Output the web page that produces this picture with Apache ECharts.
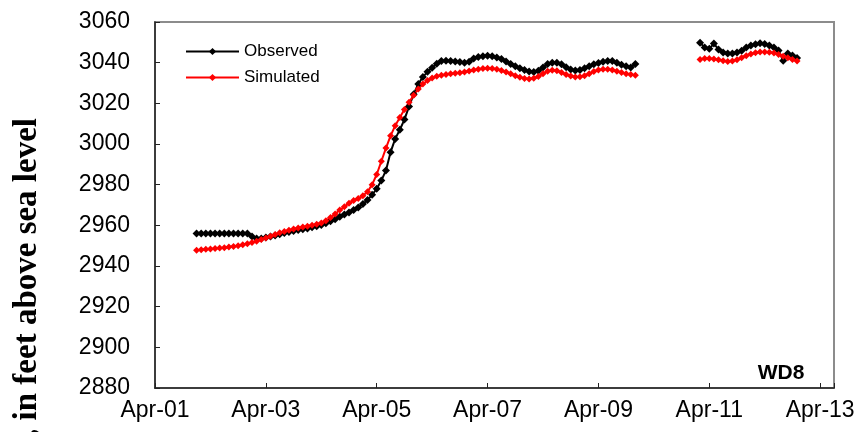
<!DOCTYPE html>
<html>
<head>
<meta charset="utf-8">
<script src="https://cdn.jsdelivr.net/npm/echarts@6/dist/echarts.min.js"></script>
<style>
  html, body { margin: 0; padding: 0; background: #fff; }
  #chart { width: 860px; height: 432px; }
</style>
</head>
<body>
<div id="chart"></div>
<script>
// Time is measured in days after Apr-01 00:00; readings every 2 hours.
const readingStep = 1 / 12;

// First record: Apr-01 18:00 to Apr-09 16:00
const part1Start = 0.75;
// Second record: Apr-10 20:00 to Apr-12 14:00
const part2Start = 9.8333;

const xTickDays = [0, 2, 4, 6, 8, 10, 12];
const xTickLabels = ['Apr-01', 'Apr-03', 'Apr-05', 'Apr-07', 'Apr-09', 'Apr-11', 'Apr-13'];

const observedPart1 = [
  2956, 2956, 2956, 2956, 2956, 2956, 2956, 2956, 2956, 2956, 2956, 2956,
  2954.5, 2953.5, 2953.5, 2954, 2954.5, 2955, 2955.6, 2956.2, 2956.7, 2957.2, 2957.7, 2958.1,
  2958.5, 2959, 2959.5, 2960.2, 2961, 2962, 2963, 2964.2, 2965.3, 2966.3, 2967.5, 2968.8,
  2970.5, 2972.5, 2975, 2978, 2982, 2987, 2996, 3002.5, 3007, 3012, 3018.5, 3024.5,
  3029.5, 3033, 3035.5, 3037.5, 3039.5, 3040.8, 3041, 3040.8, 3040.6, 3040.3, 3040, 3040.5,
  3042, 3042.8, 3043.2, 3043.4, 3043.2, 3042.6, 3041.8, 3040.6, 3039.4, 3038.2, 3037.2, 3036.4,
  3035.6, 3035.4, 3036, 3037.6, 3039.4, 3040, 3040, 3039.2, 3037.8, 3036.6, 3036.2, 3036.4,
  3037.2, 3038.2, 3039.2, 3039.8, 3040.4, 3040.8, 3040.8, 3040, 3039, 3038.2, 3037.6, 3039.4
];
const observedPart2 = [
  3049.8, 3047.5, 3046.8, 3049.4, 3046.5, 3045, 3044.5, 3044.5, 3045, 3045.8, 3047.5,
  3048.5, 3049, 3049.5, 3049.2, 3048.5, 3047.5, 3046, 3041, 3044.5, 3043.5, 3042.3
];

const simulatedPart1 = [
  2947.8, 2948, 2948.2, 2948.4, 2948.6, 2948.8, 2949, 2949.3, 2949.6, 2950, 2950.5, 2951,
  2951.5, 2952.2, 2953, 2953.8, 2954.6, 2955.5, 2956.3, 2957, 2957.6, 2958.2, 2958.7, 2959.2,
  2959.6, 2960, 2960.5, 2961.2, 2962.3, 2963.8, 2965.6, 2967.5, 2969.2, 2970.8, 2972.2, 2973.2,
  2974.5, 2976.5, 2980, 2985, 2991.5, 2998, 3004, 3009, 3013, 3017, 3020.5, 3024,
  3027, 3029.5, 3031.2, 3032.5, 3033.3, 3033.8, 3034.2, 3034.5, 3034.8, 3035, 3035.4, 3035.9,
  3036.4, 3036.8, 3037.1, 3037.2, 3037.1, 3036.8, 3036.2, 3035.4, 3034.5, 3033.6, 3032.8, 3032.2,
  3032, 3032.3, 3033.2, 3034.6, 3035.8, 3036.3, 3036, 3035.2, 3034.2, 3033.4, 3033, 3033.1,
  3033.6, 3034.5, 3035.6, 3036.4, 3036.8, 3036.8, 3036.4, 3035.8, 3035.2, 3034.6, 3034.2, 3033.8
];
const simulatedPart2 = [
  3041.6, 3042, 3042, 3041.8, 3041.4, 3040.9, 3040.6, 3040.8, 3041.4, 3042.4, 3043.4,
  3044.3, 3044.9, 3045.2, 3045.3, 3045.1, 3044.7, 3044, 3043.2, 3042.4, 3041.6, 3040.8
];

// Pair each reading with its time; a blank point keeps the two records apart.
function toPoints(part1, part2) {
  const pts = part1.map((v, i) => [part1Start + i * readingStep, v]);
  pts.push([(part1Start + part1.length * readingStep + part2Start) / 2, '-']);
  part2.forEach((v, i) => pts.push([part2Start + i * readingStep, v]));
  return pts;
}

const sans = '"Liberation Sans", Arial, sans-serif';
const serif = '"Liberation Serif", "Times New Roman", serif';

const chart = echarts.init(document.getElementById('chart'), null, { renderer: 'canvas' });

chart.setOption({
  animation: false,
  backgroundColor: '#ffffff',
  grid: {
    left: 155, right: 26, top: 22, bottom: 44,
    show: true, borderColor: '#8c8c8c', borderWidth: 2, backgroundColor: 'transparent'
  },
  legend: {
    orient: 'vertical',
    left: 180, top: 38,
    itemWidth: 53, itemHeight: 9, itemGap: 9,
    textStyle: { fontFamily: sans, fontSize: 17, color: '#000' },
    data: ['Observed', 'Simulated']
  },
  xAxis: {
    type: 'value',
    min: 0, max: 12.25, interval: 2,
    splitLine: { show: false },
    axisLine: { lineStyle: { color: '#222', width: 1.5 } },
    axisTick: { inside: true, length: 5, lineStyle: { color: '#222', width: 1 } },
    axisLabel: {
      margin: 11,
      fontFamily: sans, fontSize: 23, color: '#000',
      formatter: function (d) {
        const k = xTickDays.indexOf(Math.round(d * 1000) / 1000);
        return k >= 0 ? xTickLabels[k] : '';
      }
    }
  },
  yAxis: {
    type: 'value',
    min: 2880, max: 3060, interval: 20,
    splitLine: { show: false },
    axisLine: { show: true, lineStyle: { color: '#222', width: 1.5 } },
    axisTick: { show: true, inside: true, length: 5, lineStyle: { color: '#222', width: 1 } },
    axisLabel: {
      margin: 25, fontFamily: sans, fontSize: 23, color: '#000',
      formatter: function (v) { return String(v); }
    }
  },
  graphic: [
    {
      type: 'text',
      x: 44, y: 118,
      rotation: Math.PI / 2,
      style: {
        text: 'Water level, in feet above sea level',
        font: 'bold 33px ' + serif,
        fill: '#000',
        textAlign: 'right',
        textVerticalAlign: 'bottom'
      }
    },
    {
      type: 'text',
      x: 781, y: 373,
      style: {
        text: 'WD8',
        font: 'bold 21px ' + sans,
        fill: '#000',
        textAlign: 'center',
        textVerticalAlign: 'middle'
      }
    }
  ],
  series: [
    {
      name: 'Observed',
      type: 'line',
      data: toPoints(observedPart1, observedPart2),
      connectNulls: false,
      symbol: 'diamond',
      symbolSize: 8,
      showAllSymbol: true,
      lineStyle: { color: '#000', width: 2 },
      itemStyle: { color: '#000' }
    },
    {
      name: 'Simulated',
      type: 'line',
      data: toPoints(simulatedPart1, simulatedPart2),
      connectNulls: false,
      symbol: 'diamond',
      symbolSize: 7,
      showAllSymbol: true,
      lineStyle: { color: '#ff0000', width: 2 },
      itemStyle: { color: '#ff0000' }
    }
  ]
});
</script>
</body>
</html>
